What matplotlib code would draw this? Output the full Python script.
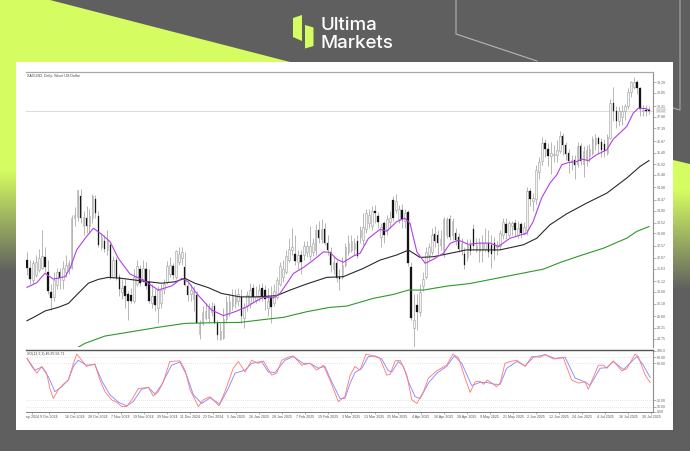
import numpy as np
import matplotlib
matplotlib.use("Agg")
import matplotlib.pyplot as plt
from matplotlib.colors import to_rgb
from matplotlib.patches import Polygon, Rectangle

plt.rcParams["font.family"] = "Liberation Sans"

# candles, in price
opens = [31.98,31.65,31.16,31.37,31.57,31.65,32.1,31.5,30.65,30.48,30.95,31.5,31.15,31.5,31.6,31.65,
         33.7,33.75,34.6,33.4,33.7,33.4,33.7,34.5,33.8,32.5,32.75,32.4,32.6,31.3,32.0,31.3,
         30.65,30.9,30.6,30.55,30.3,31.0,31.6,31.2,31.6,31.1,30.2,30.5,30.0,30.2,30.8,31.1,
         31.4,31.75,31.3,31.9,32.05,31.7,30.9,30.6,30.4,30.55,28.95,29.4,29.6,29.6,29.85,30.1,
         29.4,28.75,28.8,29.55,29.9,30.1,30.2,30.3,30.45,
         29.6,30.1,30.2,30.85,30.35,30.45,30.85,30.75,30.0,30.45,30.2,30.45,31.0,31.3,31.5,32.0,
         32.4,32.25,31.9,32.2,32.2,32.3,32.15,32.3,32.4,33.2,32.85,33.25,32.7,32.3,31.6,31.85,
         31.3,31.3,31.8,32.3,32.4,32.45,32.76,32.95,32.8,33.27,33.5,33.4,34.0,33.8,32.95,33.5,
         33.2,33.55,34.45,34.05,33.65,34.05,33.6,33.95,31.7,29.2,30.15,29.85,30.9,31.3,32.2,32.3,
         33.05,33.0,32.6,32.4,33.0,33.65,33.0,33.1,32.95,32.35,32.25,
         32.1,32.6,33.25,32.4,32.35,32.4,32.45,32.7,32.6,32.7,32.5,32.55,33.0,33.45,33.0,33.4,
         33.5,33.0,33.45,33.05,33.2,34.8,34.4,34.5,35.6,36.05,36.8,36.55,36.25,36.3,36.3,36.45,
         37.1,36.7,36.4,36.0,36.1,35.95,36.65,35.95,36.1,36.25,36.4,36.75,37.0,36.85,36.75,36.4,
         37.0,38.45,38.1,37.7,37.85,38.1,38.3,38.9,39.1,39.3,39.05,38.1,38.15,38.15]
highs = [32.31,32.0,32.0,32.2,32.45,33.2,32.5,32.0,31.0,31.5,31.65,31.65,31.95,32.2,32.0,33.85,
         34.15,34.86,34.9,34.0,34.2,34.1,34.7,34.65,34.0,33.1,33.0,33.2,32.7,32.15,32.1,31.4,
         31.2,31.2,30.7,30.85,31.6,32.0,31.8,32.0,31.9,31.6,31.0,30.8,30.9,31.0,31.2,31.95,
         32.1,31.85,32.4,32.5,32.5,32.3,31.1,31.0,30.9,30.7,29.5,30.1,30.2,30.2,30.25,30.2,
         29.5,29.4,30.0,30.5,30.6,30.8,30.8,30.85,30.8,
         30.2,30.7,31.05,31.0,30.9,31.0,31.05,30.95,30.85,30.9,31.0,31.3,31.9,32.0,32.4,32.9,
         33.3,33.0,32.4,32.4,32.75,32.75,33.4,32.9,33.45,33.6,33.65,33.5,33.0,32.5,32.1,32.0,
         31.6,32.1,32.7,33.0,33.0,32.9,33.0,33.4,33.9,34.1,34.1,34.2,34.25,33.95,33.5,33.6,
         33.85,34.0,34.6,34.7,34.25,34.3,34.1,34.05,31.9,30.6,30.6,31.0,31.5,32.5,32.7,33.3,
         33.4,33.2,33.2,33.75,33.75,33.85,33.7,33.3,33.1,32.9,32.5,
         32.85,32.85,33.45,32.9,32.9,33.0,33.3,33.2,33.0,32.95,32.75,33.2,33.7,33.7,33.6,33.6,
         33.65,33.6,33.55,33.55,35.0,34.95,34.75,35.9,36.2,37.05,36.95,36.8,36.85,36.7,36.9,37.3,
         37.2,36.85,36.55,36.3,36.3,36.85,36.8,36.65,36.7,36.75,37.1,37.15,37.1,37.0,36.95,37.15,
         38.6,39.1,38.3,38.3,38.35,38.4,39.05,39.35,39.5,39.4,39.1,38.35,38.35,38.3]
lows = [31.37,31.0,31.0,31.3,31.5,31.6,31.5,30.6,29.95,30.3,30.8,30.8,30.8,31.3,31.4,31.6,
        33.4,33.6,33.5,33.0,33.1,33.1,33.5,33.7,32.5,32.4,32.3,32.2,31.2,31.25,31.15,30.5,
        30.4,30.0,29.5,30.2,30.2,30.9,30.9,31.1,30.8,30.2,30.0,29.9,29.4,30.0,30.6,31.0,
        31.3,31.2,31.2,31.8,31.8,30.9,30.3,30.3,29.9,29.4,28.75,29.3,29.5,29.4,29.7,29.35,
        28.7,28.7,28.75,29.4,29.7,29.95,30.0,30.1,29.4,
        29.2,29.9,30.0,30.2,30.2,30.3,30.3,29.95,29.7,29.4,30.1,30.4,30.9,31.1,31.4,31.9,
        32.2,31.8,31.6,31.4,32.0,32.1,32.0,32.15,32.2,32.7,32.7,32.6,32.2,31.5,31.4,31.1,
        30.75,31.2,31.7,32.2,32.3,32.2,32.05,32.7,32.6,33.1,33.3,33.2,33.5,33.3,32.5,32.7,
        33.0,33.3,33.6,33.9,33.5,33.3,33.3,31.75,29.5,28.35,29.1,29.7,30.7,31.2,32.0,32.2,
        32.5,32.2,32.4,32.1,32.9,32.8,32.8,32.6,32.3,32.2,31.6,
        31.95,32.2,32.4,32.3,31.9,31.9,32.3,32.1,31.65,32.0,32.2,32.4,32.85,32.85,32.95,33.0,
        32.95,32.9,32.9,33.0,33.0,34.2,34.0,34.3,35.3,35.9,36.2,35.85,35.5,36.0,36.0,36.4,
        36.3,36.1,35.55,35.7,35.3,35.8,35.9,35.4,35.85,36.0,36.3,36.5,36.4,36.2,36.2,36.3,
        36.95,37.7,37.4,37.5,37.55,37.75,38.2,38.7,39.0,38.8,37.9,37.9,37.9,38.0]
closes = [31.65,31.2,31.86,31.9,32.07,32.15,31.7,30.7,30.42,31.15,31.5,31.25,31.65,31.8,31.85,33.7,
          33.85,34.85,33.7,33.75,33.4,33.8,34.6,33.9,32.6,32.95,32.45,32.8,31.25,32.0,31.25,30.8,
          30.85,30.5,30.3,30.3,31.3,31.75,31.05,31.65,30.9,30.3,30.5,30.15,30.75,30.75,31.0,31.75,
          31.8,31.35,32.35,32.25,32.3,30.95,30.55,30.75,30.7,29.4,29.4,29.85,29.9,30.0,30.05,29.4,
          28.9,29.05,29.55,30.25,30.25,30.5,30.5,30.6,29.7,
          30.0,30.55,30.75,30.45,30.5,30.75,30.45,30.4,30.3,30.05,30.7,31.15,31.75,31.6,32.15,32.45,
          32.5,31.95,32.2,31.9,32.55,32.55,32.55,32.7,33.2,32.9,33.25,32.7,32.4,31.8,31.9,31.25,
          31.2,31.8,32.5,32.7,32.75,32.7,32.15,33.22,33.35,33.92,33.85,34.0,33.9,33.55,33.35,33.0,
          33.65,33.7,33.7,34.4,34.1,33.65,33.9,31.85,29.6,29.5,29.85,30.65,31.2,32.3,32.5,33.0,
          32.75,32.7,32.85,33.65,33.65,32.95,33.6,32.8,32.45,32.7,31.8,
          32.6,32.35,32.55,32.6,32.7,32.7,32.7,32.3,32.25,32.35,32.6,33.1,33.55,33.1,33.5,33.5,
          33.2,33.3,33.1,33.35,34.8,34.5,34.55,35.7,36.0,36.8,36.55,36.25,36.4,36.35,36.5,37.1,
          36.7,36.35,36.05,36.1,35.9,36.65,36.05,36.45,36.5,36.55,36.95,37.0,36.75,36.5,36.45,37.05,
          38.45,38.1,37.7,38.1,38.1,38.3,38.9,39.3,39.3,39.05,38.2,38.15,38.1,38.12]

# moving averages, read at bar positions
ma_fast_x = [0,3.25,6.05,8.85,12.8,14.45,16.7,19.5,22.3,25.1,27.9,30.7,34.6,39.1,44.1,48.6,52,54.2,57,62,66,69.9,
             73.8,76.6,79.4,82.8,85,87.3,89.5,92.9,96.2,99.6,101.8,104.1,106.3,109.7,111.9,114.7,118.6,120.9,124.2,127,128.7,131,133.8,136.6,139.9,142.2,
             145,148.3,152.2,155.6,158.4,162.3,167.9,170.1,172.9,175.7,178,179.7,181.9,184.7,186.4,188.6,191.4,194.8,197,201.5,203.7,205.4,207.7,209]
ma_fast = [30.86,31.05,31.44,31.2,31.3,31.64,32.4,32.87,33.29,33.04,32.74,32.05,31.41,31.16,30.75,30.92,31.23,31.09,30.61,29.93,29.7,29.86,
           30.06,30.27,30.45,30.43,30.61,31.02,31.43,31.68,31.98,32.32,32.3,32.02,31.89,32.15,32.26,32.87,33.24,33.17,33.56,33.7,33.49,32.32,31.85,32.02,32.26,32.67,
           32.8,32.63,32.68,32.68,32.54,32.88,33.09,33.57,34.53,35.14,35.48,35.9,35.99,36.03,36.13,36.07,36.31,36.51,36.95,37.47,38.02,38.22,38.21,38.16]
ma_mid_x = [0,2.7,6.05,10.5,13.9,16.7,20.6,24,27.3,31.8,36.3,40.8,45.2,49.7,53.1,56.4,60.9,65.4,71.6,
            77.2,83.9,88.4,94,100.7,106.3,113,118.6,124.2,128.2,132.1,136.6,142.2,147.7,
            152.2,158.9,166.8,171.3,175.7,181.3,188,194.8,201.5,206,209]
ma_mid = [29.49,29.66,29.89,30.04,30.2,30.55,31.03,31.19,31.27,31.23,31.16,31.09,31.03,31.09,31.23,31.03,30.85,30.61,30.47,
          30.47,30.52,30.75,31.0,31.27,31.3,31.64,31.98,32.19,32.39,32.09,32.12,32.26,32.4,
          32.4,32.4,32.61,32.88,33.43,33.88,34.32,34.73,35.35,35.83,36.07]
ma_slow_x = [15.6,19.5,26.2,35.2,44.1,53.1,63.2,71.6,78.3,86.2,94,101.8,107.4,116.4,123.1,128.2,133.2,141,148.9,173.5,179.1,185.8,193.7,201.5,204.9,209]
ma_slow = [28.29,28.56,28.86,29.04,29.22,29.38,29.41,29.42,29.52,29.63,29.86,30.04,30.09,30.41,30.57,30.75,30.75,30.91,31.02,31.61,31.88,32.16,32.47,32.88,33.16,33.36]

# stochastic lines
sto_main_x = [0,1.6,3.3,5,6.6,7.7,8.85,10.5,12.2,13.9,15.6,16.7,18.4,20,22.8,24.5,26.2,28.4,30.1,31.8,33.5,35.2,37.4,40.8,42.4,44.1,45.8,48,51.4,53.1,54.8,57.6,59.3,61.5,63.2,64.5,66.5,69.3,71,73.3,75.5,77.7,79.4,82.2,83.9,85.6,87.8,89.5,92.3,95.1,97.3,99.6,101.8,104.6,106.8,
              108.6,110.2,111.9,113.9,116.4,118.6,120.9,122,123.7,125.4,127.6,129.3,131,133.2,134.9,137.7,141,143.1,145,147.2,148.9,150.6,152.2,153.4,154.7,156.2,157.8,159,160.6,162.3,164.6,167.4,169.6,172.4,174.1,176.9,180.2,183,185.3,187.5,188.6,192,193.7,194.8,197,199.8,201.5,204.3,205.4,207.7,209.4]
sto_main = [88,75,64,75,64,39,23,37,46,53,80,95,85,75,79,53,34,21,17,10,10,21,39,41,27,34,50,83,84,69,37,10,21,26,18,11,34,72,83,66,85,80,84,61,64,85,90,92,77,80,69,77,53,18,26,
            61,75,69,95,92,88,61,62,84,85,61,21,15,34,56,68,77,95,89,56,33,50,51,46,53,48,42,48,80,83,85,75,91,90,94,87,89,53,48,50,38,77,77,72,84,68,71,95,91,61,49]
sto_signal_x = [0,2.7,5,7.2,9.4,11.6,13.9,15.6,17.2,20,22.8,25.3,27.9,30.7,33.5,35.7,38.5,40.8,43,45.2,48.6,51.4,53.6,55.9,58.7,61.5,64.8,67.6,69.9,73.3,75.5,78.8,81.1,83.3,86.7,89.5,92.8,95.1,97.9,100.1,102.4,105.2,106.8,
                108.6,110.2,112.5,114.7,117,119.2,121.4,122.6,124.8,126.5,128.2,130.4,132.1,134.9,137.7,141,143.6,146.1,148.3,149.4,152.2,154.5,157.3,159,161.2,164.6,167.4,170.2,174.1,177.4,180.8,184.2,187.5,189.2,192.6,194.8,197,200.4,202.6,204.9,207.1,209.4]
sto_signal = [88,69,74,58,34,42,53,75,85,77,78,50,29,17,11,18,38,41,30,45,77,82,61,29,15,24,14,39,64,69,80,83,66,65,85,91,80,80,72,75,50,23,23,
              48,65,72,91,92,87,68,66,83,75,50,26,23,48,64,75,92,80,56,44,49,49,46,46,72,83,76,90,94,88,90,56,50,44,72,73,83,70,80,91,77,57]

price_ticks = [39.29,38.85,38.31,37.88,37.39,36.87,36.40,35.92,35.48,34.98,34.47,34.00,33.52,33.08,32.57,32.07,31.63,31.12,30.68,30.18,29.68,29.21,28.75]
last_price = 38.12
sto_ticks = [100,90,80,20,10,1.6]
sto_tick_labels = ["100.0","90.00","80.00","20.00","10.00","0.00"]
date_labels = ["ep 2024","9 Oct 2024","16 Oct 2024","28 Oct 2024","7 Nov 2024","19 Nov 2024","29 Nov 2024","11 Dec 2024","23 Dec 2024",
               "5 Jan 2025","16 Jan 2025","28 Jan 2025","7 Feb 2025","19 Feb 2025","3 Mar 2025","13 Mar 2025","25 Mar 2025","4 Apr 2025",
               "16 Apr 2025","28 Apr 2025","9 May 2025","21 May 2025","2 Jun 2025","12 Jun 2025","24 Jun 2025","4 Jul 2025","16 Jul 2025","30 Jul 2025"]
date_ticks = [1.7,7.4] + [15.96 + 7.755 * k for k in range(len(date_labels) - 2)]

W, H = 690, 451
LIME = "#d5fd61"
GRAY = "#5f5f5f"
SMALL = 2.6

fig = plt.figure(figsize=(W / 100, H / 100), dpi=100, facecolor=GRAY)


def px_axes(x0, y0, x1, y1):
    # axes placed by pixel box, y counted from the top of the image
    return fig.add_axes([x0 / W, 1 - y1 / H, (x1 - x0) / W, (y1 - y0) / H])


def fade(ax, x0, x1, y0, y1, y_solid, y_gone):
    # lime that runs out into the grey background going down
    ys = np.linspace(y0, y1, 200)
    t = np.clip((ys - y_solid) / (y_gone - y_solid), 0, 1)[:, None, None]
    img = (1 - t) * np.array(to_rgb(LIME))[None, None, :] + t * np.array(to_rgb(GRAY))[None, None, :]
    return ax.imshow(img, extent=[x0, x1, y1, y0], aspect="auto", zorder=1)


# background and logo
bg = px_axes(0, 0, W, H)
bg.set_xlim(0, W)
bg.set_ylim(H, 0)
bg.axis("off")
bg.add_patch(Polygon([(0, 0), (50, 0), (290, 62), (290, 70), (0, 70)], color=LIME, lw=0, zorder=1))
fade(bg, 0, 16, 60, 290, 170, 273)
right = fade(bg, 673, 690, 155, 300, 190, 290)
right.set_clip_path(Polygon([(673, 160), (690, 164), (690, 300), (673, 300)], transform=bg.transData))
bg.set_xlim(0, W)
bg.set_ylim(H, 0)
bg.plot([456, 456, 537], [0, 34, 61], color="#b5b5b5", lw=0.8, zorder=2)
bg.plot([680, 680, 673], [0, 110, 108], color="#a8a8a8", lw=0.8, zorder=2)
bg.add_patch(Rectangle((16, 62), 657, 368, color="white", lw=0, zorder=3))
bg.add_patch(Polygon([(293, 18), (302, 15), (302, 41), (293, 37)], color=LIME, lw=0, zorder=4))
bg.add_patch(Polygon([(305, 25), (313.5, 27.5), (313.5, 46), (305, 48.5)], color=LIME, lw=0, zorder=4))
bg.text(321, 30, "Ultima", color="white", fontsize=13.5, family="Inter", weight="medium", va="baseline", zorder=4)
bg.text(321, 47.5, "Markets", color="white", fontsize=13.5, family="Inter", weight="medium", va="baseline", zorder=4)

# price panel
n = len(closes)
pitch = (649 - 27) / (n - 1)
x_lo, x_hi = -(27 - 26) / pitch, (653 - 27) / pitch
idx = np.arange(n)
o, h, l, c = map(np.array, (opens, highs, lows, closes))
up = c >= o

ax = px_axes(26, 72, 653, 347)
ax.patch.set_alpha(0)
ax.vlines(idx, l, h, color="#9a9a9a", lw=0.5, zorder=2)
ax.bar(idx[up], (c - o)[up], bottom=o[up], width=0.55, color="#f4f4f4", edgecolor="#a0a0a0", lw=0.4, zorder=3)
ax.bar(idx[~up], (o - c)[~up], bottom=c[~up], width=0.5, color="#151515", edgecolor="#151515", lw=0.2, zorder=3)
ax.axhline(last_price, color="#dddddd", lw=0.8, zorder=1)
ax.plot(ma_slow_x, ma_slow, color="#2c9a2c", lw=0.8, solid_joinstyle="round", zorder=4)
ax.plot(ma_mid_x, ma_mid, color="#2a2a2a", lw=0.8, solid_joinstyle="round", zorder=4)
ax.plot(ma_fast_x, ma_fast, color="#b23fe6", lw=0.8, solid_joinstyle="round", zorder=5)
ax.set_xlim(x_lo, x_hi)
ax.set_ylim(28.41, 39.71)
ax.set_xticks([])
ax.yaxis.tick_right()
ax.set_yticks(price_ticks)
ax.set_yticklabels([f"{v:.2f}" for v in price_ticks])
ax.tick_params(axis="y", length=2, width=0.4, color="#777777", labelsize=SMALL, labelcolor="#666666", pad=1)
for side in ["left", "bottom"]:
    ax.spines[side].set_visible(False)
ax.spines["top"].set_color("#a8a8a8")
ax.spines["right"].set_color("#909090")
ax.spines["top"].set_linewidth(0.9)
ax.spines["right"].set_linewidth(0.8)
ax.text(0.001, 0.992, "XAGUSD, Daily: Silver US Dollar", transform=ax.transAxes, fontsize=SMALL, color="#444444", va="top")
ax.text(1.006, last_price, f"{last_price:.2f}", transform=ax.get_yaxis_transform(), fontsize=SMALL, color="#aaaaaa", va="center",
        bbox=dict(facecolor="#e6e6e6", edgecolor="none", pad=0.5))

# stochastic panel
sto = px_axes(26, 350, 653, 411.7)
sto.patch.set_alpha(0)
for level in [90, 80, 20, 10]:
    sto.axhline(level, color="#d0d0d0", lw=0.5, ls=(0, (1, 2)), zorder=1)
sto.plot(sto_signal_x, sto_signal, color="#8a8aff", lw=0.65, solid_joinstyle="round", zorder=2)
sto.plot(sto_main_x, sto_main, color="#ff7d7d", lw=0.65, solid_joinstyle="round", zorder=3)
sto.set_xlim(x_lo, x_hi)
sto.set_ylim(1.6, 101.6)
sto.yaxis.tick_right()
sto.set_yticks(sto_ticks)
sto.set_yticklabels(sto_tick_labels)
sto.set_xticks(date_ticks)
sto.set_xticklabels(date_labels)
sto.tick_params(axis="y", length=2, width=0.4, color="#777777", labelsize=SMALL, labelcolor="#666666", pad=1)
sto.tick_params(axis="x", length=1.5, width=0.4, color="#777777", labelsize=SMALL, labelcolor="#555555", pad=0.8)
sto.spines["left"].set_visible(False)
sto.spines["top"].set_color("#555555")
sto.spines["top"].set_linewidth(1.0)
sto.spines["right"].set_color("#909090")
sto.spines["right"].set_linewidth(0.8)
sto.spines["bottom"].set_color("#808080")
sto.spines["bottom"].set_linewidth(0.7)
sto.text(0.001, 0.965, "SO(13,3,3) 46.85 56.71", transform=sto.transAxes, fontsize=SMALL, color="#444444", va="top")

fig.savefig("out.png", dpi=100, facecolor=GRAY)
